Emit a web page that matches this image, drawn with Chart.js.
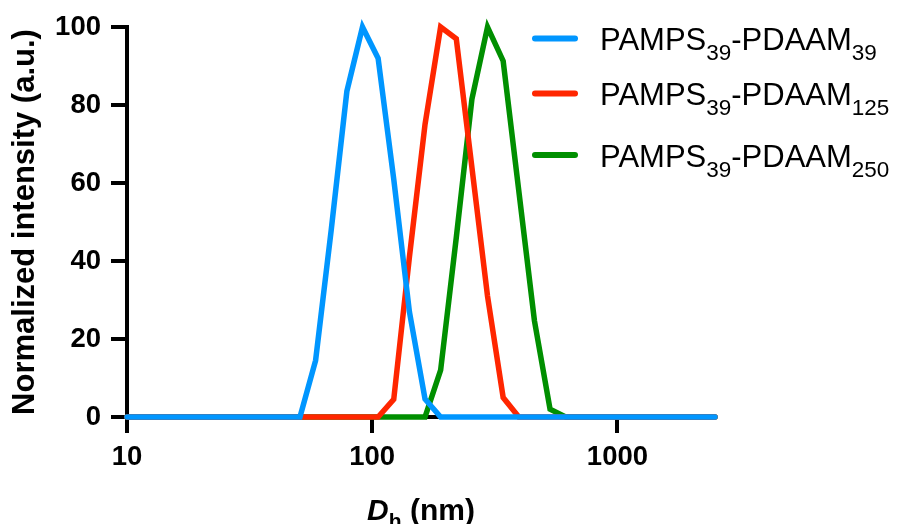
<!DOCTYPE html>
<html>
<head>
<meta charset="utf-8">
<script src="https://cdn.jsdelivr.net/npm/chart.js@4/dist/chart.umd.min.js"></script>
<style>
  html, body { margin: 0; padding: 0; background: #ffffff; }
  #wrap { width: 899px; height: 524px; position: relative; }
</style>
</head>
<body>
<div id="wrap"><canvas id="c" width="899" height="524"></canvas></div>
<script>
// ---- Data ----
const seriesNames = ['PAMPS39-PDAAM39', 'PAMPS39-PDAAM125', 'PAMPS39-PDAAM250'];
const seriesLabelParts = [
  ['PAMPS', '39', '-PDAAM', '39'],
  ['PAMPS', '39', '-PDAAM', '125'],
  ['PAMPS', '39', '-PDAAM', '250']
];
const sizesA = [10, 50.75, 58.77, 68.06, 78.82, 91.28, 105.7, 122.4, 141.8, 164.2, 190.1, 2500];
const intensityA = [0, 0, 14.5, 48, 83.5, 100, 92, 61, 27, 4.6, 0, 0];
const sizesB = [10, 105.7, 122.4, 141.8, 164.2, 190.1, 220.2, 255.0, 295.3, 342.0, 396.1, 2500];
const intensityB = [0, 0, 4.5, 41, 75, 100, 97, 64, 31, 5, 0, 0];
const sizesC = [10, 164.2, 190.1, 220.2, 255.0, 295.3, 342.0, 396.1, 458.7, 531.2, 615.1, 2500];
const intensityC = [0, 0, 12, 46, 81.5, 100, 91.3, 58, 24.7, 2, 0, 0];
const xTickValues = [10, 100, 1000];
const yTickValues = [0, 20, 40, 60, 80, 100];
const yTitle = 'Normalized intensity (a.u.)';
const xTitleParts = ['D', 'h', ' (nm)'];

const colors = ['#0096FF', '#FF2600', '#008F00'];
const FONT = "'Liberation Sans', Arial, Helvetica, sans-serif";

function pts(xs, ys) { return xs.map((x, i) => ({ x: x, y: ys[i] })); }

const customDraw = {
  id: 'customDraw',
  afterDraw(chart) {
    const ctx = chart.ctx;
    const ca = chart.chartArea;
    ctx.save();
    // Legend
    const lineX1 = 535, lineX2 = 575, textX = 600;
    const baselines = [50, 105, 166.5];
    ctx.textBaseline = 'alphabetic';
    ctx.textAlign = 'left';
    seriesLabelParts.forEach((parts, i) => {
      const b = baselines[i];
      const ly = b - 11.5;
      ctx.strokeStyle = colors[i];
      ctx.lineWidth = 6;
      ctx.lineCap = 'round';
      ctx.beginPath();
      ctx.moveTo(lineX1, ly);
      ctx.lineTo(lineX2, ly);
      ctx.stroke();
      ctx.fillStyle = '#000';
      let x = textX;
      parts.forEach((p, k) => {
        const sub = (k % 2 === 1);
        ctx.font = (sub ? '22.5px ' : '31px ') + FONT;
        ctx.fillText(p, x, sub ? b + 10 : b);
        x += ctx.measureText(p).width;
      });
    });
    // X title with italic D and subscript h
    const fMain = 'bold 30px ' + FONT;
    const fItal = 'italic bold 30px ' + FONT;
    const fSub = 'bold 21px ' + FONT;
    const fonts = [fItal, fSub, fMain];
    let total = 0;
    const widths = xTitleParts.map((p, k) => { ctx.font = fonts[k]; const w = ctx.measureText(p).width; total += w; return w; });
    let x = (ca.left + ca.right) / 2 - total / 2;
    const base = 519.5;
    xTitleParts.forEach((p, k) => {
      ctx.font = fonts[k];
      ctx.fillStyle = '#000';
      ctx.fillText(p, x, k === 1 ? base + 8 : base);
      x += widths[k];
    });
    ctx.restore();
  }
};

const commonDs = {
  borderWidth: 5.5,
  pointRadius: 0,
  pointHoverRadius: 0,
  tension: 0,
  fill: false,
  clip: false,
  borderCapStyle: 'round',
  borderJoinStyle: 'miter'
};

new Chart(document.getElementById('c'), {
  type: 'line',
  data: {
    datasets: [
      Object.assign({ label: seriesNames[0], data: pts(sizesA, intensityA), borderColor: colors[0], backgroundColor: colors[0] }, commonDs),
      Object.assign({ label: seriesNames[1], data: pts(sizesB, intensityB), borderColor: colors[1], backgroundColor: colors[1] }, commonDs),
      Object.assign({ label: seriesNames[2], data: pts(sizesC, intensityC), borderColor: colors[2], backgroundColor: colors[2] }, commonDs)
    ]
  },
  options: {
    responsive: false,
    animation: false,
    devicePixelRatio: 1,
    layout: { padding: { left: 0, top: 27, right: 184, bottom: 0 } },
    plugins: { legend: { display: false }, tooltip: { enabled: false }, title: { display: false } },
    scales: {
      x: {
        type: 'logarithmic',
        min: 10,
        max: 2500,
        afterBuildTicks: (s) => { s.ticks = xTickValues.map(v => ({ value: v })); },
        afterFit: (s) => { s.height = 107; },
        ticks: {
          autoSkip: false, maxRotation: 0, minRotation: 0,
          padding: 8,
          color: '#000',
          font: { family: FONT, size: 27.5, weight: 'bold' },
          callback: (v) => String(v)
        },
        grid: { display: true, drawOnChartArea: false, drawTicks: true, tickLength: 16, color: '#000', lineWidth: 4 },
        border: { display: true, color: '#000', width: 4 },
        title: { display: false }
      },
      y: {
        min: 0,
        max: 100,
        afterBuildTicks: (s) => { s.ticks = yTickValues.map(v => ({ value: v })); },
        afterFit: (s) => { s.width = 127; },
        ticks: {
          padding: 10,
          color: '#000',
          font: { family: FONT, size: 27.5, weight: 'bold' },
          callback: (v) => String(v)
        },
        grid: { display: true, drawOnChartArea: false, drawTicks: true, tickLength: 16, color: '#000', lineWidth: 4 },
        border: { display: true, color: '#000', width: 4 },
        title: {
          display: true,
          text: yTitle,
          color: '#000',
          font: { family: FONT, size: 31, weight: 'bold' },
          padding: { top: 7, bottom: 0 }
        }
      }
    }
  },
  plugins: [customDraw]
});
</script>
</body>
</html>
